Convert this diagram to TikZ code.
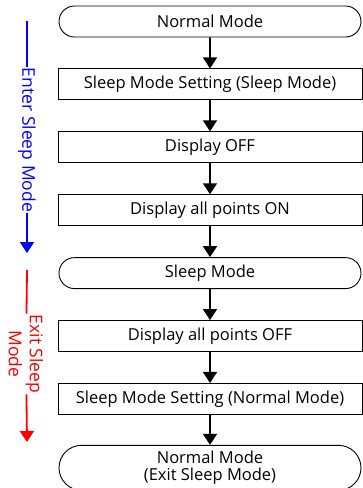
\documentclass[tikz,border=0pt]{standalone}
\usepackage{fontspec}
\setmainfont{Open Sans}
\usetikzlibrary{positioning,shapes.misc,arrows.meta}

\tikzset{
  stepbox/.style={draw, line width=0.9pt, minimum width=304pt, minimum height=31pt,
    inner sep=1pt, font=\fontsize{16.5}{17}\selectfont},
  endbox/.style={stepbox, rounded rectangle},
  flow/.style={-{Triangle[length=11pt,width=14pt]}, line width=1.8pt},
  side/.style={line width=1.8pt},
  sidetext/.style={rotate=-90, inner sep=1pt, font=\fontsize{17.5}{21}\selectfont, align=center},
}

\begin{document}
\begin{tikzpicture}[x=1pt, y=1pt, node distance=31pt]
      \useasboundingbox (0,0) rectangle (363,-488);
        \node[endbox] (normal) at (210,-21.5) {Normal Mode};
        \node[stepbox, below=of normal] (setsleep) {Sleep Mode Setting (Sleep Mode)};
        \node[stepbox, below=of setsleep] (dispoff) {Display OFF};
        \node[stepbox, below=of dispoff] (allon) {Display all points ON};
        \node[endbox, below=of allon] (sleep) {Sleep Mode};
        \node[stepbox, below=of sleep] (alloff) {Display all points OFF};
        \node[stepbox, below=of alloff] (setnormal) {Sleep Mode Setting (Normal Mode)};
        \node[endbox, minimum height=45pt, below=30pt of setnormal, align=center] (exit) {Normal Mode\\(Exit Sleep Mode)};

        \draw[flow] (normal) -- (setsleep);
        \draw[flow] (setsleep) -- (dispoff);
        \draw[flow] (dispoff) -- (allon);
        \draw[flow] (allon) -- (sleep);
        \draw[flow] (sleep) -- (alloff);
        \draw[flow] (alloff) -- (setnormal);
        \draw[flow] (setnormal) -- (exit);

        % side arrows
        \coordinate (enterTop) at (27,-21);
        \node[sidetext, blue] (enterTxt) at (27,-140) {Enter Sleep Mode};
        \coordinate (enterEnd) at (27,-253);
        \draw[side, blue] (enterTop) -- (enterTxt);
        \draw[flow, blue] (enterTxt) -- (enterEnd);

        \coordinate (exitTop) at (27,-270);
        \node[sidetext, red] (exitTxt) at (26,-354) {Exit Sleep\\Mode};
        \coordinate (exitEnd) at (27,-442);
        \draw[side, red] (exitTop) -- (exitTxt);
        \draw[flow, red] (exitTxt) -- (exitEnd);
    \end{tikzpicture}
\end{document}
